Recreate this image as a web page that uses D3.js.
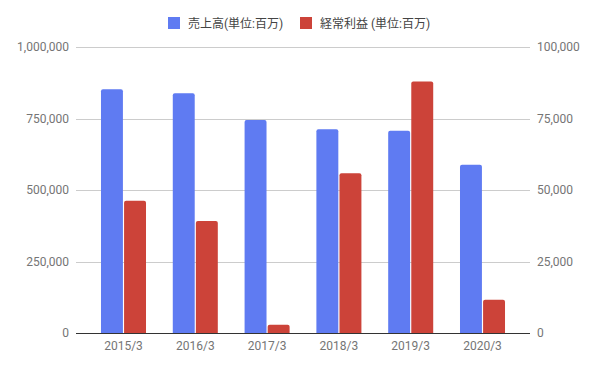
<!DOCTYPE html>
<html>
<head>
<meta charset="utf-8">
<script src="https://cdn.jsdelivr.net/npm/d3@7"></script>
<style>
  body { margin: 0; background: #fff; }
  svg { font-family: Roboto, "Noto Sans CJK JP", sans-serif; }
</style>
</head>
<body>
<script>
// Data
const years = ["2015/3", "2016/3", "2017/3", "2018/3", "2019/3", "2020/3"];
const sales = [852000, 838000, 745000, 712000, 707000, 588000];      // 売上高 (left axis)
const profit = [46200, 39200, 2900, 55900, 87900, 11600];           // 経常利益 (right axis)
const leftTicks = [0, 250000, 500000, 750000, 1000000];
const rightTicks = [0, 25000, 50000, 75000, 100000];
const seriesNames = ["売上高(単位:百万)", "経常利益 (単位:百万)"];
const colors = ["#5f7bf2", "#cc4339"];

const w = 596, h = 368;
const plotLeft = 76, plotRight = 530, plotTop = 47, plotBottom = 333;

const svg = d3.select("body").append("svg")
  .attr("width", w)
  .attr("height", h);

const yLeft = d3.scaleLinear().domain([0, 1000000]).range([plotBottom, plotTop]);
const yRight = d3.scaleLinear().domain([0, 100000]).range([plotBottom, plotTop]);

const x = d3.scaleBand()
  .domain(years)
  .range([plotLeft, plotRight])
  .paddingInner(0.373)
  .paddingOuter(0.348);

const xInner = d3.scaleBand()
  .domain([0, 1])
  .range([0, x.bandwidth()])
  .paddingInner(0.05);

// gridlines
svg.append("g")
  .selectAll("line")
  .data(leftTicks.slice(1))
  .join("line")
  .attr("x1", plotLeft).attr("x2", plotRight)
  .attr("y1", d => Math.round(yLeft(d)) + 0.5)
  .attr("y2", d => Math.round(yLeft(d)) + 0.5)
  .attr("stroke", "#cccccc");

// left tick labels
svg.append("g")
  .selectAll("text")
  .data(leftTicks)
  .join("text")
  .attr("x", 69)
  .attr("y", d => yLeft(d) + 4)
  .attr("text-anchor", "end")
  .attr("font-size", 12)
  .attr("fill", "#757575")
  .text(d => d3.format(",")(d));

// right tick labels
svg.append("g")
  .selectAll("text")
  .data(rightTicks)
  .join("text")
  .attr("x", 537)
  .attr("y", d => yRight(d) + 4)
  .attr("text-anchor", "start")
  .attr("font-size", 12)
  .attr("fill", "#757575")
  .text(d => d3.format(",")(d));

// rounded-top bar path
function barPath(x0, bw, yTop, yBase, r) {
  r = Math.min(r, (yBase - yTop), bw / 2);
  return `M${x0},${yBase}V${yTop + r}Q${x0},${yTop} ${x0 + r},${yTop}` +
    `H${x0 + bw - r}Q${x0 + bw},${yTop} ${x0 + bw},${yTop + r}V${yBase}Z`;
}

const groups = svg.append("g")
  .selectAll("g")
  .data(years)
  .join("g")
  .attr("transform", d => `translate(${x(d)},0)`);

groups.append("path")
  .attr("fill", colors[0])
  .attr("d", (d, i) => barPath(xInner(0), xInner.bandwidth(), yLeft(sales[i]), plotBottom, 2));

groups.append("path")
  .attr("fill", colors[1])
  .attr("d", (d, i) => barPath(xInner(1), xInner.bandwidth(), yRight(profit[i]), plotBottom, 2));

// baseline
svg.append("line")
  .attr("x1", plotLeft).attr("x2", plotRight)
  .attr("y1", plotBottom + 0.5).attr("y2", plotBottom + 0.5)
  .attr("stroke", "#333333");

// x labels
svg.append("g")
  .selectAll("text")
  .data(years)
  .join("text")
  .attr("x", d => x(d) + x.bandwidth() / 2)
  .attr("y", 350)
  .attr("text-anchor", "middle")
  .attr("font-size", 12)
  .attr("fill", "#757575")
  .text(d => d);

// legend
const legendX = [168, 300];
const legend = svg.append("g")
  .selectAll("g")
  .data(seriesNames)
  .join("g")
  .attr("transform", (d, i) => `translate(${legendX[i]},17)`);

legend.append("rect")
  .attr("width", 12).attr("height", 12)
  .attr("fill", (d, i) => colors[i]);

legend.append("text")
  .attr("x", 20)
  .attr("y", 10.5)
  .attr("font-size", 12)
  .attr("fill", "#444444")
  .text(d => d);
</script>
</body>
</html>
